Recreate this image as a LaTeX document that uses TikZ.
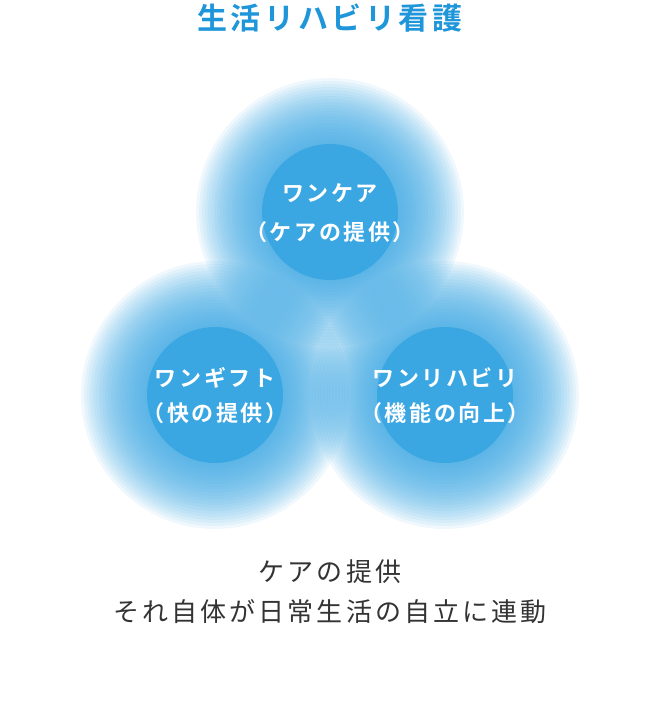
\documentclass[tikz,border=0pt]{standalone}
\usepackage{fontspec}
\setmainfont{Noto Sans CJK JP}[LetterSpace=12]
\newfontfamily\jpbold{Noto Sans CJK JP Bold}[LetterSpace=12]
\definecolor{ballblue}{HTML}{3AA6E2}
\definecolor{titleblue}{HTML}{1E96D9}
\definecolor{txtgray}{HTML}{333333}
\tikzset{
  wtxt/.style={text=white,font=\jpbold\fontsize{22}{26}\selectfont,inner sep=0pt},
  btxt/.style={text=txtgray,font=\fontsize{26}{30}\selectfont,inner sep=0pt}
}
\newcommand{\blurball}[1]{%
  \foreach \r in {134,131,...,70}{\fill[ballblue,opacity=0.075] (#1) circle (\r pt);}
  \fill[ballblue] (#1) circle (68pt);
}
\begin{document}
\begin{tikzpicture}[x=1pt,y=1pt]
\useasboundingbox (0,0) rectangle (660,712);
\coordinate (ct) at (330,500);
\coordinate (cl) at (215,317);
\coordinate (cr) at (445,317);
\blurball{cl}
\blurball{cr}
\blurball{ct}
\node[inner sep=0pt,text=titleblue,font=\jpbold\fontsize{30}{34}\selectfont] (title) at (330,694) {生活リハビリ看護};
\node[wtxt] (t1) at (330,519) {ワンケア};
\node[wtxt] (t2) at (330,480) {（ケアの提供）};
\node[wtxt] (l1) at (215,334) {ワンギフト};
\node[wtxt] (l2) at (215,299) {（快の提供）};
\node[wtxt] (r1) at (445,334) {ワンリハビリ};
\node[wtxt] (r2) at (445,299) {（機能の向上）};
\node[btxt] (b1) at (330,140) {ケアの提供};
\node[btxt] (b2) at (330,100) {それ自体が日常生活の自立に連動};
\end{tikzpicture}
\end{document}
